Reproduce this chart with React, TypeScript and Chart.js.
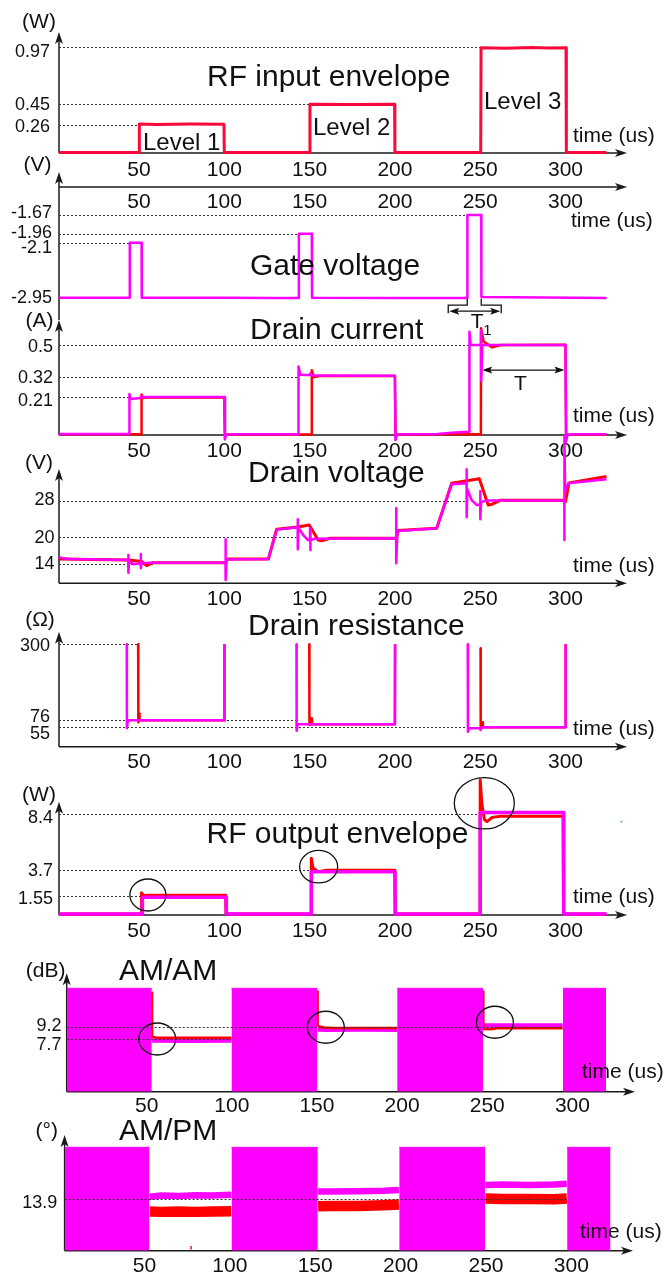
import React, { useEffect, useRef } from "react";
import { Chart, registerables } from "chart.js";

Chart.register(...registerables);

const PAGE_W = 666;
const PAGE_H = 1274;
const FONT = '"Liberation Sans", Arial, Helvetica, sans-serif';
const RED = "#ff0000";
const MAGENTA = "#ff00ff";
const CRIMSON = "#fa0a3c";
const INK = "#111111";
const AXIS = "#1a1a1a";
const DOT = "#333333";

// ---------------- data ----------------
const timeTicks = [50, 100, 150, 200, 250, 300];

// RF input envelope (W)
const rfInTime = [3, 50, 50.2, 60, 80, 99.8, 100, 150, 150.2, 175, 199.8, 200, 250.3, 250.5, 265, 280, 290, 300.3, 300.5, 324];
const rfInPower = [0.004, 0.004, 0.265, 0.262, 0.266, 0.264, 0.004, 0.004, 0.448, 0.446, 0.448, 0.004, 0.004, 0.966, 0.962, 0.967, 0.963, 0.966, 0.004, 0.004];

// Gate voltage (V)
const gateTime = [3, 44.5, 44.6, 51.5, 51.6, 100, 128, 143.6, 143.7, 151.3, 151.4, 200, 242.4, 242.5, 250.6, 250.7, 270, 324];
const gateVolt = [-2.95, -2.95, -2.1, -2.1, -2.95, -2.952, -2.955, -2.955, -1.96, -1.96, -2.95, -2.955, -2.955, -1.67, -1.67, -2.94, -2.945, -2.955];
const t1Window = [242.4, 250.6];

// Drain current (A)
const curRedTime = [3, 51.4, 51.5, 52.2, 55, 100, 100.4, 101.5, 151.2, 151.3, 152.5, 156, 200, 200.4, 202, 230, 250.4, 250.5, 252, 257, 262, 300, 300.4, 302, 324];
const curRedAmp = [0.004, 0.004, 0.225, 0.205, 0.209, 0.209, 0.0, 0.003, 0.003, 0.36, 0.322, 0.328, 0.328, 0.0, 0.003, 0.004, 0.004, 0.593, 0.52, 0.487, 0.5, 0.502, 0.0, 0.003, 0.003];
const curMagTime = [3, 44.3, 44.4, 45.2, 48, 51, 51.1, 51.6, 55, 100, 100.3, 101, 104, 143.4, 143.5, 144.5, 147, 150.4, 150.5, 151.2, 155, 200, 200.3, 201.2, 205, 225, 235, 243.6, 243.7, 244.4, 250.4, 250.5, 250.6, 251.2, 260, 300, 300.3, 301.2, 305, 324];
const curMagAmp = [0.006, 0.006, 0.228, 0.2, 0.203, 0.205, 0.216, 0.21, 0.211, 0.211, -0.025, 0.0, 0.004, 0.004, 0.38, 0.335, 0.333, 0.333, 0.344, 0.33, 0.33, 0.329, -0.028, 0.0, 0.004, 0.006, 0.014, 0.018, 0.574, 0.5, 0.5, 0.58, 0.3, 0.5, 0.5, 0.5, -0.037, 0.0, 0.004, 0.004];
const tWindow = [250.6, 300];
const tArrowLevel = 0.361;

// Drain voltage (V)
const vRedTime = [3, 44, 51.5, 54.5, 58, 100, 100.8, 102, 125.8, 130.7, 143, 149.8, 155, 157, 162, 200, 200.8, 202, 224.5, 233.3, 249.5, 254.7, 257, 262, 299.3, 300, 302, 324];
const vRedVolt = [15.1, 14.9, 14.6, 13.65, 14.3, 14.3, 14.3, 15.1, 15.1, 21.7, 22.2, 22.6, 19.3, 19.16, 19.7, 19.7, 19.7, 21.4, 21.9, 31.8, 32.8, 27.0, 27.2, 28.1, 28.1, 27.76, 31.9, 33.3];
const vMagTime = [3, 5, 10, 43.7, 43.75, 43.8, 44.2, 47, 51, 51.05, 51.1, 51.5, 56, 100.7, 100.75, 100.8, 101.3, 125.8, 130.7, 143, 143.05, 143.1, 143.4, 146.3, 149, 150.2, 150.25, 150.3, 150.7, 153, 200, 200.7, 200.75, 200.8, 201.5, 224.5, 233.3, 242, 242.05, 242.1, 242.5, 245, 248, 250, 250.05, 250.1, 250.5, 253, 299.3, 299.35, 299.4, 299.8, 301.7, 324];
const vMagVolt = [15.6, 15.3, 15.1, 14.9, 16.0, 12.1, 14.6, 13.95, 14.2, 16.2, 13.07, 14.2, 14.3, 14.3, 19.5, 10.5, 15.0, 15.1, 21.6, 22.1, 23.9, 17.3, 22.0, 20.4, 19.3, 19.3, 21.9, 17.1, 19.3, 19.6, 19.7, 19.7, 26.3, 14.2, 21.3, 21.9, 31.6, 31.8, 34.9, 24.3, 30.5, 28.1, 27.0, 27.2, 30.1, 23.9, 27.6, 28.0, 28.1, 19.3, 42.1, 30.0, 31.8, 32.7];

// Drain resistance (Ohm)
const resRedTime = [49.5, 49.6, 50.0, 50.2, 50.4, 51.0, 100, 100.1, 100.1, 149.8, 149.9, 151, 151.3, 151.6, 200, 200.1, 200.1, 250.2, 250.3, 251, 251.3, 251.6, 300, 300.1];
const resRedOhm = [300, 70, 76, 96, 78, 76, 76, 300, null, 300, 62, 64, 82, 64, 64, 300, null, 288, 50, 55, 70, 55, 55, 300];
const resMagTime = [42.8, 42.9, 43.5, 100, 100.1, 100.1, 142.3, 142.4, 143, 200, 200.1, 200.1, 242.7, 242.8, 243.5, 249.8, 250.2, 251, 300, 300.1];
const resMagOhm = [300, 52, 76, 76, 300, null, 300, 45, 64, 64, 300, null, 300, 42, 52, 52, 47, 55, 55, 300];

// RF output envelope (W)
const outRedTime = [3, 51.4, 51.5, 52.5, 56, 100.8, 101, 150.9, 151, 152, 155, 160, 200, 200.2, 249.9, 250, 251, 252.5, 254, 257, 262, 298.6, 298.8, 324];
const outRedW = [0.08, 0.08, 1.85, 1.62, 1.63, 1.63, 0.08, 0.08, 4.7, 3.9, 3.6, 3.72, 3.72, 0.08, 0.08, 11.2, 9.2, 7.9, 7.75, 8.1, 8.2, 8.2, 0.08, 0.08];
const outMagTime = [3, 51.9, 52, 101, 101.2, 150.9, 151, 200, 200.2, 249.9, 250, 298.8, 299, 324];
const outMagW = [0.08, 0.08, 1.47, 1.47, 0.08, 0.08, 3.58, 3.58, 0.08, 0.08, 8.5, 8.5, 0.08, 0.08];
const outGreenTime = [332.3, 333.3];
const outGreenW = [7.74, 7.74];

// AM/AM (dB)
const amBlockTime = [3.05, 53, 53, 99.8, 150.2, 150.2, 197.1, 247.5, 247.5, 294.4, 319.8];
const amBlockDb = [13.88, 13.88, null, 13.88, 13.88, null, 13.88, 13.88, null, 13.88, 13.88];
const amRedTime = [53.1, 53.2, 56, 75, 99.7, 99.7, 150.3, 150.4, 154, 160, 197, 197, 247.6, 247.7, 252, 256, 275, 294.3];
const amRedDb = [13.5, 7.98, 7.85, 7.84, 7.85, null, 13.5, 9.3, 9.1, 9.05, 9.05, null, 13.5, 8.92, 8.9, 9.0, 9.02, 9.02];
const amMagTime = [53.2, 54, 75, 99.7, 99.7, 150.4, 155, 175, 197, 197, 247.7, 252, 275, 294.3];
const amMagDb = [7.5, 7.5, 7.48, 7.5, null, 8.85, 8.83, 8.85, 8.84, null, 9.33, 9.35, 9.33, 9.35];

// AM/PM (deg)
const pmBlockTime = [3.3, 53, 53, 101, 151.5, 151.5, 199.2, 249.5, 249.5, 297.5, 322.9];
const pmBlockDeg = [27.96, 27.96, null, 27.96, 27.96, null, 27.96, 27.96, null, 27.96, 27.96];
const pmMagTime = [53.2, 60, 70, 80, 90, 100.8, 100.8, 151.7, 160, 175, 190, 199, 199, 249.7, 260, 275, 290, 297.3];
const pmMagDeg = [14.6, 14.9, 14.8, 15.0, 14.9, 15.1, null, 16.0, 16.0, 16.1, 16.2, 16.4, null, 17.8, 17.9, 17.8, 17.9, 18.1];
const pmRedTime = [53.2, 60, 70, 80, 90, 100.8, 100.8, 151.7, 160, 175, 190, 199, 199, 249.7, 260, 275, 290, 297.3];
const pmRedDeg = [10.6, 10.5, 10.6, 10.5, 10.6, 10.7, null, 12.0, 12.1, 12.1, 12.3, 12.5, null, 14.1, 14.0, 14.0, 13.9, 14.1];
const pmMarkTime = [77.3, 77.3];
const pmMarkDeg = [0.3, 1.3];

// ---------------- helpers ----------------
type Pt = { x: number; y: number | null };
const zip = (t: number[], v: (number | null)[]): Pt[] => t.map((x, i) => ({ x, y: v[i] }));

const lineDs = (data: Pt[], color: string, width: number, extra: Record<string, unknown> = {}) => ({
  data,
  borderColor: color,
  backgroundColor: color,
  borderWidth: width,
  pointRadius: 0,
  pointHoverRadius: 0,
  tension: 0,
  fill: false,
  clip: false,
  spanGaps: false,
  borderJoinStyle: "round",
  borderCapStyle: "butt",
  ...extra,
});

type TextItem = { text: string; x: number; y: number; size: number; align?: CanvasTextAlign };
type RefLine = { v: number; to: number };
type YLabel = { text: string; v: number; dy: number };
type Ellipse = { t: number; v: number; rx: number; ry: number };
type Fn = (t: number) => number;

interface PanelSpec {
  area: { l: number; r: number; t: number; b: number };
  xRange: [number, number];
  yRange: [number, number];
  datasets: any[];
  refs: RefLine[];
  refsOnTop?: boolean;
  yLabels: YLabel[];
  yLabelRight: number;
  xAxisY: number;
  yAxisFrom: number;
  yAxisTip: number;
  tickBaseline: number;
  texts: TextItem[];
  ellipses?: Ellipse[];
  extra?: (ctx: CanvasRenderingContext2D, xs: Fn, ys: Fn) => void;
}

function arrowRight(ctx: CanvasRenderingContext2D, x: number, y: number) {
  ctx.beginPath();
  ctx.moveTo(x, y);
  ctx.lineTo(x - 12, y - 4);
  ctx.lineTo(x - 9, y);
  ctx.lineTo(x - 12, y + 4);
  ctx.closePath();
  ctx.fill();
}
function arrowLeft(ctx: CanvasRenderingContext2D, x: number, y: number) {
  ctx.beginPath();
  ctx.moveTo(x, y);
  ctx.lineTo(x + 10, y - 3.5);
  ctx.lineTo(x + 8, y);
  ctx.lineTo(x + 10, y + 3.5);
  ctx.closePath();
  ctx.fill();
}
function arrowUp(ctx: CanvasRenderingContext2D, x: number, y: number) {
  ctx.beginPath();
  ctx.moveTo(x, y);
  ctx.lineTo(x - 4, y + 12);
  ctx.lineTo(x, y + 9);
  ctx.lineTo(x + 4, y + 12);
  ctx.closePath();
  ctx.fill();
}
function doubleArrow(ctx: CanvasRenderingContext2D, xa: number, xb: number, y: number) {
  ctx.beginPath();
  ctx.moveTo(xa + 4, y);
  ctx.lineTo(xb - 4, y);
  ctx.stroke();
  arrowLeft(ctx, xa, y);
  ctx.beginPath();
  ctx.moveTo(xb, y);
  ctx.lineTo(xb - 10, y - 3.5);
  ctx.lineTo(xb - 8, y);
  ctx.lineTo(xb - 10, y + 3.5);
  ctx.closePath();
  ctx.fill();
}
function drawText(ctx: CanvasRenderingContext2D, t: TextItem) {
  ctx.font = `${t.size}px ${FONT}`;
  ctx.textAlign = t.align ?? "left";
  ctx.textBaseline = "alphabetic";
  ctx.fillStyle = INK;
  ctx.fillText(t.text, t.x, t.y);
}

function makeDecor(spec: PanelSpec) {
  const drawRefs = (chart: any) => {
    const ctx: CanvasRenderingContext2D = chart.ctx;
    const xs: Fn = (t) => chart.scales.x.getPixelForValue(t);
    const ys: Fn = (v) => chart.scales.y.getPixelForValue(v);
    ctx.save();
    ctx.strokeStyle = DOT;
    ctx.lineWidth = 1;
    ctx.setLineDash([2, 2]);
    for (const r of spec.refs) {
      const y = Math.round(ys(r.v)) + 0.5;
      ctx.beginPath();
      ctx.moveTo(spec.area.l, y);
      ctx.lineTo(xs(r.to), y);
      ctx.stroke();
    }
    ctx.restore();
  };
  return {
    id: "decor",
    beforeDatasetsDraw(chart: any) {
      const ctx: CanvasRenderingContext2D = chart.ctx;
      const a = spec.area;
      ctx.save();
      ctx.strokeStyle = AXIS;
      ctx.fillStyle = AXIS;
      ctx.lineWidth = 1.5;
      ctx.beginPath();
      ctx.moveTo(a.l, spec.xAxisY);
      ctx.lineTo(a.r - 8, spec.xAxisY);
      ctx.stroke();
      arrowRight(ctx, a.r, spec.xAxisY);
      ctx.beginPath();
      ctx.moveTo(a.l, spec.yAxisFrom);
      ctx.lineTo(a.l, spec.yAxisTip + 8);
      ctx.stroke();
      arrowUp(ctx, a.l, spec.yAxisTip);
      ctx.restore();
      if (!spec.refsOnTop) drawRefs(chart);
    },
    afterDatasetsDraw(chart: any) {
      const ctx: CanvasRenderingContext2D = chart.ctx;
      const xs: Fn = (t) => chart.scales.x.getPixelForValue(t);
      const ys: Fn = (v) => chart.scales.y.getPixelForValue(v);
      if (spec.refsOnTop) drawRefs(chart);
      ctx.save();
      for (const t of timeTicks) {
        drawText(ctx, { text: String(t), x: xs(t), y: spec.tickBaseline, size: 21, align: "center" });
      }
      for (const l of spec.yLabels) {
        drawText(ctx, { text: l.text, x: spec.yLabelRight, y: ys(l.v) + l.dy, size: 18, align: "right" });
      }
      for (const t of spec.texts) drawText(ctx, t);
      if (spec.ellipses) {
        ctx.strokeStyle = INK;
        ctx.lineWidth = 1.3;
        for (const e of spec.ellipses) {
          ctx.beginPath();
          ctx.ellipse(xs(e.t), ys(e.v), e.rx, e.ry, 0, 0, Math.PI * 2);
          ctx.stroke();
        }
      }
      if (spec.extra) {
        ctx.strokeStyle = INK;
        ctx.fillStyle = INK;
        ctx.lineWidth = 1.3;
        spec.extra(ctx, xs, ys);
      }
      ctx.restore();
    },
  };
}

// ---------------- panels ----------------
const AREA_A = { l: 59, r: 627 };
const X_A: [number, number] = [3.1, 336.05];

const panels: PanelSpec[] = [
  {
    area: { ...AREA_A, t: 32, b: 153 },
    xRange: X_A,
    yRange: [0, 1.11],
    datasets: [lineDs(zip(rfInTime, rfInPower), CRIMSON, 3)],
    refs: [
      { v: 0.97, to: 250.3 },
      { v: 0.45, to: 150 },
      { v: 0.26, to: 50 },
    ],
    yLabels: [
      { text: "0.97", v: 0.97, dy: 10 },
      { text: "0.45", v: 0.45, dy: 6 },
      { text: "0.26", v: 0.26, dy: 7 },
    ],
    yLabelRight: 50,
    xAxisY: 153,
    yAxisFrom: 153,
    yAxisTip: 32,
    tickBaseline: 175.5,
    texts: [
      { text: "(W)", x: 39, y: 28, size: 21, align: "center" },
      { text: "RF input envelope", x: 207, y: 86, size: 30 },
      { text: "Level 1", x: 143, y: 150, size: 24 },
      { text: "Level 2", x: 313, y: 135, size: 24 },
      { text: "Level 3", x: 484, y: 109.3, size: 24 },
      { text: "time (us)", x: 573, y: 141.7, size: 21 },
    ],
  },
  {
    area: { ...AREA_A, t: 187, b: 310 },
    xRange: X_A,
    yRange: [-3.141, -1.237],
    datasets: [lineDs(zip(gateTime, gateVolt), MAGENTA, 2.5)],
    refs: [
      { v: -1.67, to: 242.4 },
      { v: -1.96, to: 143.6 },
      { v: -2.1, to: 44.5 },
    ],
    yLabels: [
      { text: "-1.67", v: -1.67, dy: 3.3 },
      { text: "-1.96", v: -1.96, dy: 4.6 },
      { text: "-2.1", v: -2.1, dy: 10.5 },
      { text: "-2.95", v: -2.95, dy: 5.6 },
    ],
    yLabelRight: 52,
    xAxisY: 187,
    yAxisFrom: 320,
    yAxisTip: 172,
    tickBaseline: 208.3,
    texts: [
      { text: "(V)", x: 37.4, y: 171, size: 21, align: "center" },
      { text: "Gate voltage", x: 250, y: 275, size: 30 },
      { text: "time (us)", x: 571, y: 227.3, size: 21 },
    ],
    extra: (ctx, xs, ys) => {
      const x1 = xs(t1Window[0]);
      const x2 = xs(t1Window[1]);
      const yb = ys(-2.95);
      const yBar = yb + 7.5;
      ctx.beginPath();
      ctx.moveTo(x1, yb + 1);
      ctx.lineTo(x1, yBar);
      ctx.lineTo(x1 - 19, yBar);
      ctx.lineTo(x1 - 19, yBar + 8);
      ctx.moveTo(x2, yb + 1);
      ctx.lineTo(x2, yBar);
      ctx.lineTo(x2 + 20, yBar);
      ctx.lineTo(x2 + 20, yBar + 8);
      ctx.stroke();
      doubleArrow(ctx, x1 - 18, x2 + 19, yBar + 6);
      drawText(ctx, { text: "T", x: x1 + 3.5, y: yBar + 23.3, size: 21 });
      drawText(ctx, { text: "1", x: x1 + 16, y: yBar + 30, size: 15 });
    },
  },
  {
    area: { ...AREA_A, t: 320, b: 435 },
    xRange: X_A,
    yRange: [0, 0.639],
    datasets: [
      lineDs(zip(curMagTime, curMagAmp), MAGENTA, 2.5),
      lineDs(zip(curRedTime, curRedAmp), RED, 2.5),
    ],
    refs: [
      { v: 0.5, to: 243.6 },
      { v: 0.32, to: 143.4 },
      { v: 0.21, to: 44.3 },
    ],
    yLabels: [
      { text: "0.5", v: 0.5, dy: 6.7 },
      { text: "0.32", v: 0.32, dy: 5.3 },
      { text: "0.21", v: 0.21, dy: 8.8 },
    ],
    yLabelRight: 53,
    xAxisY: 435,
    yAxisFrom: 435,
    yAxisTip: 320,
    tickBaseline: 456.7,
    texts: [
      { text: "(A)", x: 39.5, y: 327, size: 21, align: "center" },
      { text: "Drain current", x: 250, y: 339.3, size: 30 },
      { text: "time (us)", x: 573, y: 421.7, size: 21 },
    ],
    extra: (ctx, xs, ys) => {
      const xa = xs(tWindow[0]);
      const xb = xs(tWindow[1]);
      const y = ys(tArrowLevel);
      doubleArrow(ctx, xa + 1, xb - 1, y);
      drawText(ctx, { text: "T", x: (xa + xb) / 2 - 3, y: y + 20, size: 21, align: "center" });
    },
  },
  {
    area: { ...AREA_A, t: 469, b: 583.3 },
    xRange: X_A,
    yRange: [9.77, 34.96],
    datasets: [
      lineDs(zip(vMagTime, vMagVolt), MAGENTA, 2.5),
      lineDs(zip(vRedTime, vRedVolt), RED, 3),
    ],
    refs: [
      { v: 28, to: 241 },
      { v: 20, to: 142.4 },
      { v: 14, to: 59 },
    ],
    yLabels: [
      { text: "28", v: 28, dy: 4.4 },
      { text: "20", v: 20, dy: 6.4 },
      { text: "14", v: 14, dy: 5.2 },
    ],
    yLabelRight: 54.4,
    xAxisY: 583.3,
    yAxisFrom: 583.3,
    yAxisTip: 469,
    tickBaseline: 605,
    texts: [
      { text: "(V)", x: 39, y: 469.3, size: 21, align: "center" },
      { text: "Drain voltage", x: 248, y: 481.7, size: 30 },
      { text: "time (us)", x: 573, y: 571.7, size: 21 },
    ],
  },
  {
    area: { ...AREA_A, t: 631.7, b: 746.7 },
    xRange: X_A,
    yRange: [-2.26, 337.2],
    datasets: [
      lineDs(zip(resMagTime, resMagOhm), MAGENTA, 2.5),
      lineDs(zip(resRedTime, resRedOhm), RED, 2.5),
    ],
    refs: [
      { v: 300, to: 49.5 },
      { v: 76, to: 142.7 },
      { v: 55, to: 242.7 },
    ],
    yLabels: [
      { text: "300", v: 300, dy: 6.7 },
      { text: "76", v: 76, dy: 1.5 },
      { text: "55", v: 55, dy: 12 },
    ],
    yLabelRight: 50,
    xAxisY: 746.7,
    yAxisFrom: 746.7,
    yAxisTip: 631.7,
    tickBaseline: 768.3,
    texts: [
      { text: "(Ω)", x: 40, y: 626, size: 21, align: "center" },
      { text: "Drain resistance", x: 248, y: 635, size: 30 },
      { text: "time (us)", x: 573, y: 735, size: 21 },
    ],
  },
  {
    area: { ...AREA_A, t: 801.7, b: 915 },
    xRange: X_A,
    yRange: [0, 9.4],
    datasets: [
      lineDs(zip(outMagTime, outMagW), MAGENTA, 3.5),
      lineDs(zip(outRedTime, outRedW), RED, 3),
      lineDs(zip(outGreenTime, outGreenW), "#22cc22", 1.5),
    ],
    refs: [
      { v: 8.4, to: 250 },
      { v: 3.7, to: 151 },
      { v: 1.55, to: 51.5 },
    ],
    yLabels: [
      { text: "8.4", v: 8.4, dy: 8.9 },
      { text: "3.7", v: 3.7, dy: 5.6 },
      { text: "1.55", v: 1.55, dy: 7.7 },
    ],
    yLabelRight: 53,
    xAxisY: 915,
    yAxisFrom: 915,
    yAxisTip: 801.7,
    tickBaseline: 937,
    texts: [
      { text: "(W)", x: 39, y: 801, size: 21, align: "center" },
      { text: "RF output envelope", x: 206.5, y: 843.3, size: 30 },
      { text: "time (us)", x: 573, y: 903.3, size: 21 },
    ],
    ellipses: [
      { t: 55.2, v: 1.66, rx: 18, ry: 16 },
      { t: 155.3, v: 4.01, rx: 19, ry: 16.3 },
      { t: 252.4, v: 9.27, rx: 30, ry: 25.7 },
    ],
  },
  {
    area: { l: 66.7, r: 635, t: 973.3, b: 1091.7 },
    xRange: [3.05, 336.76],
    yRange: [1.27, 15.71],
    datasets: [
      lineDs(zip(amBlockTime, amBlockDb), MAGENTA, 1, { fill: "start", backgroundColor: MAGENTA }),
      lineDs(zip(amRedTime, amRedDb), RED, 2.5),
      lineDs(zip(amMagTime, amMagDb), MAGENTA, 4.5),
    ],
    refs: [
      { v: 9.2, to: 294.4 },
      { v: 7.7, to: 99.8 },
    ],
    refsOnTop: true,
    yLabels: [
      { text: "9.2", v: 9.2, dy: 4.3 },
      { text: "7.7", v: 7.7, dy: 11 },
    ],
    yLabelRight: 61.6,
    xAxisY: 1091.7,
    yAxisFrom: 1091.7,
    yAxisTip: 973.3,
    tickBaseline: 1111.7,
    texts: [
      { text: "(dB)", x: 45.7, y: 976.7, size: 21, align: "center" },
      { text: "AM/AM", x: 119, y: 980, size: 30 },
      { text: "time (us)", x: 582, y: 1078.3, size: 21 },
    ],
    ellipses: [
      { t: 56.2, v: 7.7, rx: 18.5, ry: 16 },
      { t: 155.2, v: 9.13, rx: 18.5, ry: 16 },
      { t: 254.5, v: 9.74, rx: 18.5, ry: 16 },
    ],
  },
  {
    area: { l: 64.6, r: 633, t: 1135, b: 1250.7 },
    xRange: [3.28, 336.07],
    yRange: [0, 31.29],
    datasets: [
      lineDs(zip(pmBlockTime, pmBlockDeg), MAGENTA, 1, { fill: "start", backgroundColor: MAGENTA }),
      lineDs(zip(pmMagTime, pmMagDeg), MAGENTA, 6.5),
      lineDs(zip(pmRedTime, pmRedDeg), RED, 10.5),
      lineDs(zip(pmMarkTime, pmMarkDeg), "#cc2222", 1.5),
    ],
    refs: [{ v: 13.9, to: 297.5 }],
    refsOnTop: true,
    yLabels: [{ text: "13.9", v: 13.9, dy: 9 }],
    yLabelRight: 57.3,
    xAxisY: 1250.7,
    yAxisFrom: 1250.7,
    yAxisTip: 1135,
    tickBaseline: 1271.7,
    texts: [
      { text: "(°)", x: 46.7, y: 1137, size: 21, align: "center" },
      { text: "AM/PM", x: 119, y: 1140, size: 30 },
      { text: "time (us)", x: 580, y: 1238.3, size: 21 },
    ],
  },
];

function Panel({ spec }: { spec: PanelSpec }) {
  const ref = useRef<HTMLCanvasElement | null>(null);
  useEffect(() => {
    if (!ref.current) return;
    const a = spec.area;
    const chart = new Chart(ref.current, {
      type: "line",
      data: { datasets: spec.datasets },
      options: {
        responsive: false,
        animation: false,
        devicePixelRatio: 1,
        events: [],
        layout: { padding: { left: a.l, right: PAGE_W - a.r, top: a.t, bottom: PAGE_H - a.b } },
        plugins: { legend: { display: false }, tooltip: { enabled: false }, title: { display: false } },
        scales: {
          x: { type: "linear", min: spec.xRange[0], max: spec.xRange[1], display: false },
          y: { type: "linear", min: spec.yRange[0], max: spec.yRange[1], display: false },
        },
      },
      plugins: [makeDecor(spec)],
    } as any);
    return () => chart.destroy();
  }, [spec]);
  return (
    <canvas
      ref={ref}
      width={PAGE_W}
      height={PAGE_H}
      style={{ position: "absolute", left: 0, top: 0, width: PAGE_W, height: PAGE_H }}
    />
  );
}

export default function App() {
  return (
    <div
      style={{
        position: "absolute",
        left: 0,
        top: 0,
        width: PAGE_W,
        height: PAGE_H,
        background: "#ffffff",
        overflow: "hidden",
      }}
    >
      {panels.map((p, i) => (
        <Panel key={i} spec={p} />
      ))}
    </div>
  );
}
